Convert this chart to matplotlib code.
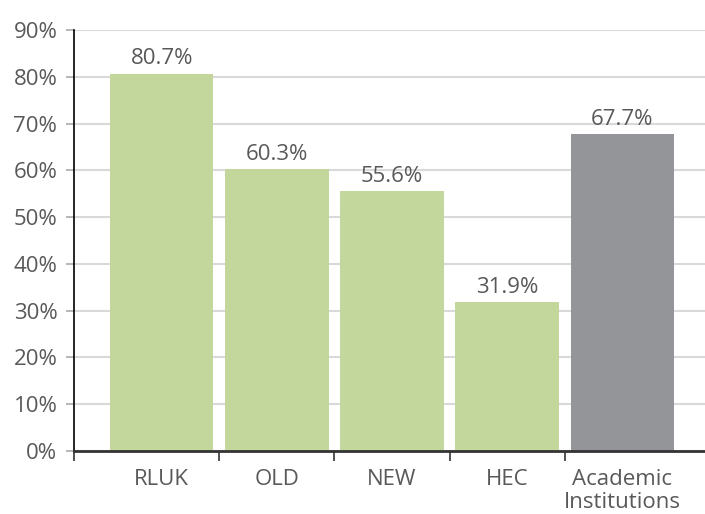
import matplotlib.pyplot as plt
from matplotlib.ticker import FuncFormatter

categorias = ["RLUK", "OLD", "NEW", "HEC", "Academic\nInstitutions"]
valores = [80.7, 60.3, 55.6, 31.9, 67.7]
colores = ["#C3D69B", "#C3D69B", "#C3D69B", "#C3D69B", "#939598"]

plt.rcParams['font.family'] = ['Open Sans', 'DejaVu Sans']
gris_texto = "#595959"

fig = plt.figure(figsize=(7.05, 5.14), dpi=100)
ax = fig.add_axes([0.105, 0.1226, 0.895, 0.819])

x = list(range(len(categorias)))
barras = ax.bar(x, valores, width=0.9, color=colores, zorder=3)

for xi, v in zip(x, valores):
    ax.annotate(f"{v:.1f}%", (xi, v), xytext=(0, 3), textcoords="offset points",
                ha="center", va="bottom", fontsize=16, color=gris_texto)

ax.set_ylim(0, 90)
ax.set_yticks(range(0, 91, 10))
ax.yaxis.set_major_formatter(FuncFormatter(lambda v, p: f"{v:.0f}%"))
ax.grid(axis="y", color="#D9D9D9", linewidth=1.5, zorder=0)

izq = -0.5 - 30 / 115
ax.set_xlim(izq, 4.5 + 25 / 115)
ax.set_xticks(x)
ax.set_xticklabels(categorias, linespacing=1.15)
ax.tick_params(axis="x", which="major", length=0, pad=13)
ax.set_xticks([izq, 0.5, 1.5, 2.5, 3.5], minor=True)
ax.tick_params(axis="x", which="minor", length=7, width=1.2, color="#333333", direction="out")
ax.tick_params(axis="y", length=6, width=1.2, color="#AAAAAA", pad=6)
ax.tick_params(labelsize=16, labelcolor=gris_texto)

for s in ["top", "right"]:
    ax.spines[s].set_visible(False)
ax.spines["left"].set_color("#000000")
ax.spines["left"].set_linewidth(1.2)
ax.spines["bottom"].set_color("#333333")
ax.spines["bottom"].set_linewidth(2)
ax.spines["bottom"].set_zorder(4)

plt.savefig("out.png", dpi=100)
